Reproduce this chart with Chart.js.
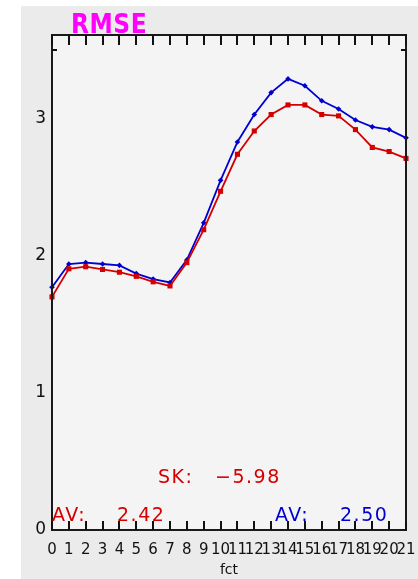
<!DOCTYPE html>
<html>
<head>
<meta charset="utf-8">
<script src="https://cdn.jsdelivr.net/npm/chart.js@4/dist/chart.umd.min.js"></script>
<style>
html,body{margin:0;padding:0;background:#ffffff;}
#wrap{width:418px;height:579px;position:relative;}
</style>
</head>
<body>
<div id="wrap"><canvas id="c" width="418" height="579"></canvas></div>
<script>
const fct = [0,1,2,3,4,5,6,7,8,9,10,11,12,13,14,15,16,17,18,19,20,21];
const redSeries = [1.70,1.905,1.92,1.90,1.88,1.85,1.81,1.78,1.95,2.19,2.47,2.74,2.91,3.03,3.10,3.10,3.03,3.02,2.92,2.79,2.76,2.71];
const blueSeries = [1.77,1.94,1.95,1.94,1.93,1.87,1.83,1.805,1.97,2.24,2.55,2.83,3.03,3.19,3.29,3.24,3.13,3.07,2.99,2.94,2.92,2.86];
const yTicks = [0,1,2,3];
const titleText = "RMSE";
const xTitle = "fct";
const skText = ["SK:", "\u22125.98"];
const avRed = ["AV:", "2.42"];
const avBlue = ["AV:", "2.50"];

const RED = '#d40000';
const BLUE = '#0000d0';

const decor = {
  id: 'decor',
  beforeDraw(chart) {
    const ctx = chart.ctx;
    const a = chart.chartArea;
    ctx.save();
    ctx.fillStyle = '#ffffff';
    ctx.fillRect(0, 0, chart.width, chart.height);
    ctx.fillStyle = '#ebebeb';
    ctx.fillRect(21, 6, chart.width - 21, chart.height - 6);
    ctx.fillStyle = '#f4f4f4';
    ctx.fillRect(a.left, a.top, a.right - a.left, a.bottom - a.top);
    ctx.restore();
  },
  afterDraw(chart) {
    const ctx = chart.ctx;
    const a = chart.chartArea;
    const xs = chart.scales['x'];
    const ys = chart.scales['y'];
    ctx.save();
    // frame
    ctx.strokeStyle = '#1a1a1a';
    ctx.lineWidth = 2;
    ctx.strokeRect(a.left, a.top, a.right - a.left, a.bottom - a.top);
    // inward ticks
    ctx.lineWidth = 2;
    ctx.strokeStyle = '#111111';
    xs.ticks.forEach(t => {
      const px = Math.round(xs.getPixelForValue(t.value));
      ctx.beginPath();
      ctx.moveTo(px, a.top);
      ctx.lineTo(px, a.top + 10);
      ctx.stroke();
      ctx.beginPath();
      ctx.moveTo(px, a.bottom);
      ctx.lineTo(px, a.bottom - 9);
      ctx.stroke();
    });
    const py = Math.round(ys.getPixelForValue(3.5));
    ctx.beginPath();
    ctx.moveTo(a.left, py); ctx.lineTo(a.left + 5, py);
    ctx.moveTo(a.right, py); ctx.lineTo(a.right - 5, py);
    ctx.stroke();
    // title
    ctx.fillStyle = '#ff00ff';
    ctx.font = 'bold 26px "DejaVu Sans Condensed", "DejaVu Sans"';
    ctx.textBaseline = 'alphabetic';
    ctx.textAlign = 'left';
    ctx.letterSpacing = '0.5px';
    ctx.fillText(titleText, 71, 33);
    // annotations
    ctx.font = '19px "DejaVu Sans"';
    ctx.letterSpacing = '1.5px';
    ctx.fillStyle = RED;
    ctx.fillText(skText[0], 158, 483);
    ctx.fillText(skText[1], 215, 483);
    ctx.fillText(avRed[0], 52, 521);
    ctx.fillText(avRed[1], 117, 521);
    ctx.fillStyle = BLUE;
    ctx.fillText(avBlue[0], 275, 521);
    ctx.fillText(avBlue[1], 340, 521);
    ctx.restore();
  }
};

new Chart(document.getElementById('c'), {
  type: 'line',
  data: {
    datasets: [
      {
        label: 'red',
        data: fct.map((x, i) => ({x: x, y: redSeries[i]})),
        borderColor: RED,
        backgroundColor: RED,
        borderWidth: 1.8,
        pointStyle: 'rect',
        pointRadius: 3.6,
        pointBorderWidth: 0,
        tension: 0,
        clip: false
      },
      {
        label: 'blue',
        data: fct.map((x, i) => ({x: x, y: blueSeries[i]})),
        borderColor: BLUE,
        backgroundColor: BLUE,
        borderWidth: 1.8,
        pointStyle: 'rectRot',
        pointRadius: 2.8,
        pointBorderWidth: 0,
        tension: 0,
        clip: false
      }
    ]
  },
  options: {
    responsive: false,
    animation: false,
    events: [],
    layout: { padding: { top: 35, right: 12, left: 0, bottom: 0 } },
    plugins: { legend: { display: false }, title: { display: false }, tooltip: { enabled: false } },
    scales: {
      x: {
        type: 'linear',
        min: 0, max: 21,
        afterFit(s) { s.height = 49; s.paddingRight = 0; s.paddingLeft = 0; },
        grid: { display: false, drawTicks: false },
        border: { display: false },
        ticks: {
          stepSize: 1, autoSkip: false, maxRotation: 0, minRotation: 0,
          padding: 11, color: '#111111',
          font: { family: 'DejaVu Sans', size: 15 }
        },
        afterBuildTicks(s) { s.ticks = fct.map(v => ({value: v})); },
        title: {
          display: true, text: xTitle, color: '#111111',
          font: { family: 'DejaVu Sans', size: 14 },
          padding: { top: 0, bottom: 0 }
        }
      },
      y: {
        type: 'linear',
        min: 0, max: 3.61,
        afterFit(s) { s.width = 52; s.paddingTop = 0; s.paddingBottom = 0; },
        afterBuildTicks(s) { s.ticks = yTicks.map(v => ({value: v})); },
        grid: { display: false, drawTicks: false },
        border: { display: false },
        ticks: {
          padding: 6, color: '#111111',
          font: { family: 'DejaVu Sans', size: 17 }
        }
      }
    }
  },
  plugins: [decor]
});
</script>
</body>
</html>
